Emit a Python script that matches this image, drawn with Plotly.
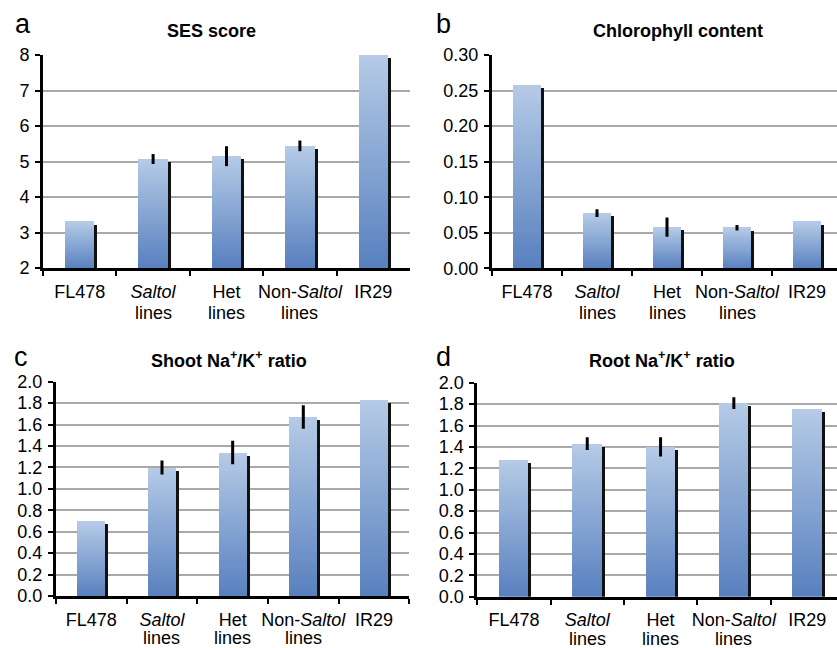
import plotly.graph_objects as go

# ---------------- data ----------------
categories = ["FL478", "<i>Saltol</i>", "Het", "Non-<i>Saltol</i>", "IR29"]
category_line2 = ["", "lines", "lines", "lines", ""]

ses_values = [3.30, 5.07, 5.15, 5.44, 8.00]
ses_errors = [None, 0.14, 0.28, 0.15, None]

chl_values = [0.258, 0.0775, 0.058, 0.057, 0.0655]
chl_errors = [None, 0.0055, 0.0135, 0.004, None]

shoot_values = [0.70, 1.20, 1.34, 1.67, 1.83]
shoot_errors = [None, 0.065, 0.11, 0.11, None]

root_values = [1.28, 1.43, 1.40, 1.81, 1.76]
root_errors = [None, 0.06, 0.09, 0.055, None]

titles = ["SES score", "Chlorophyll content",
          "Shoot Na<sup>+</sup>/K<sup>+</sup> ratio",
          "Root Na<sup>+</sup>/K<sup>+</sup> ratio"]
letters = ["a", "b", "c", "d"]

# ---------------- layout constants ----------------
W, H = 837, 648
FONT = "Liberation Sans, Arial, Helvetica, sans-serif"
BAR_W = 0.40
N_SEG = 40
TOP_RGB = (181, 203, 231)
BOT_RGB = (88, 128, 190)

panels = [
    dict(vals=ses_values, errs=ses_errors, ymin=2, ymax=8, dtick=1, fmt="d",
         xpx=(43, 410), ypx=(55, 268), xmax=4.5, line2=45,
         title_xy=(211.5, 31), letter_xy=(13, 24)),
    dict(vals=chl_values, errs=chl_errors, ymin=0, ymax=0.30, dtick=0.05, fmt=".2f",
         xpx=(492, 837), ypx=(55, 268.3), xmax=-0.5 + 345 / 70.0, line2=45,
         title_xy=(677.5, 31), letter_xy=(434, 24)),
    dict(vals=shoot_values, errs=shoot_errors, ymin=0, ymax=2.0, dtick=0.2, fmt=".1f",
         xpx=(56, 409.3), ypx=(381.7, 596), xmax=4.5, line2=42,
         title_xy=(229, 359), letter_xy=(12, 357)),
    dict(vals=root_values, errs=root_errors, ymin=0, ymax=2.0, dtick=0.2, fmt=".1f",
         xpx=(477.3, 837), ypx=(382.7, 596.7), xmax=-0.5 + 359.7 / 73.3, line2=42,
         title_xy=(661.7, 359), letter_xy=(434, 357)),
]


def mix(t):
    r = [round(BOT_RGB[i] + (TOP_RGB[i] - BOT_RGB[i]) * t) for i in range(3)]
    return "rgb(%d,%d,%d)" % tuple(r)


fig = go.Figure()
annotations = []

for i, p in enumerate(panels):
    n = i + 1
    xa = "x" if n == 1 else "x%d" % n
    ya = "y" if n == 1 else "y%d" % n
    vals, errs, ymin, ymax = p["vals"], p["errs"], p["ymin"], p["ymax"]
    x0, x1 = p["xpx"]
    yt, yb = p["ypx"]
    px_per_cat = (x1 - x0) / (p["xmax"] + 0.5)
    px_per_unit = (yb - yt) / (ymax - ymin)

    # gradient bars (stacked segments from axis minimum to value)
    for k in range(N_SEG):
        t = (k + 0.5) / N_SEG
        fig.add_trace(go.Bar(
            x=categories,
            y=[(v - ymin) / N_SEG for v in vals],
            base=[ymin + (v - ymin) * k / N_SEG for v in vals],
            width=BAR_W, offset=-BAR_W / 2,
            marker=dict(color=mix(t), line=dict(width=0)),
            xaxis=xa, yaxis=ya, showlegend=False, hoverinfo="skip"))

    # dark drop shadow on the right side of each bar
    sh_w = 3.0 / px_per_cat
    sh_off = 3.0 / px_per_unit
    fig.add_trace(go.Bar(
        x=categories,
        y=[v - ymin - sh_off for v in vals],
        base=ymin,
        width=sh_w, offset=BAR_W / 2,
        marker=dict(color="#111111", line=dict(width=0)),
        xaxis=xa, yaxis=ya, showlegend=False, hoverinfo="skip"))

    # error bars
    ex = [c for c, e in zip(categories, errs) if e is not None]
    ey = [v for v, e in zip(vals, errs) if e is not None]
    ee = [e for e in errs if e is not None]
    fig.add_trace(go.Scatter(
        x=ex, y=ey, mode="markers", marker=dict(opacity=0, size=1),
        error_y=dict(type="data", array=ee, visible=True, thickness=3,
                     width=0, color="black"),
        xaxis=xa, yaxis=ya, showlegend=False, hoverinfo="skip"))

    xkey = "xaxis" if n == 1 else "xaxis%d" % n
    ykey = "yaxis" if n == 1 else "yaxis%d" % n
    fig.layout[xkey] = dict(
        domain=[x0 / W, x1 / W], anchor=ya, type="category", automargin=False,
        range=[-0.5, p["xmax"]], showline=True, linecolor="black", linewidth=3,
        ticks="outside", tickson="boundaries", ticklen=5, tickwidth=2,
        tickcolor="black", showgrid=False, zeroline=False, tickangle=0,
        tickfont=dict(family=FONT, size=18, color="black"),
        ticklabelstandoff=5, fixedrange=True)
    fig.layout[ykey] = dict(
        domain=[1 - yb / H, 1 - yt / H], anchor=xa, automargin=False,
        range=[ymin, ymax], dtick=p["dtick"], tick0=ymin, tickformat=p["fmt"],
        showline=True, linecolor="black", linewidth=3,
        ticks="outside", ticklen=5, tickwidth=2, tickcolor="black",
        showgrid=True, gridcolor="#a9a9a9", gridwidth=2, zeroline=False,
        tickfont=dict(family=FONT, size=18, color="black"),
        ticklabelstandoff=2, fixedrange=True)

    # second line of the category labels ("lines"), tighter line spacing
    for c, t2 in zip(categories, category_line2):
        if t2:
            annotations.append(dict(
                text=t2, x=c, xref=xa, y=1 - (yb + p["line2"]) / H,
                yref="paper", xanchor="center", yanchor="middle",
                showarrow=False, font=dict(family=FONT, size=18, color="black")))

    tx, ty = p["title_xy"]
    annotations.append(dict(
        text="<b>%s</b>" % titles[i], x=tx / W, y=1 - ty / H,
        xref="paper", yref="paper", xanchor="center", yanchor="middle",
        showarrow=False, font=dict(family=FONT, size=18, color="black")))
    lx, ly = p["letter_xy"]
    annotations.append(dict(
        text=letters[i], x=lx / W, y=1 - ly / H,
        xref="paper", yref="paper", xanchor="left", yanchor="middle",
        showarrow=False, font=dict(family=FONT, size=27, color="black")))

fig.update_layout(
    template="none",
    width=W, height=H, margin=dict(l=0, r=0, t=0, b=0, autoexpand=False),
    paper_bgcolor="white", plot_bgcolor="white",
    barmode="overlay", bargap=0, showlegend=False,
    annotations=annotations)

fig.write_html("out.html", config={"displayModeBar": False},
               post_script="document.body.style.margin='0';"
                           "document.body.style.overflow='hidden';")
